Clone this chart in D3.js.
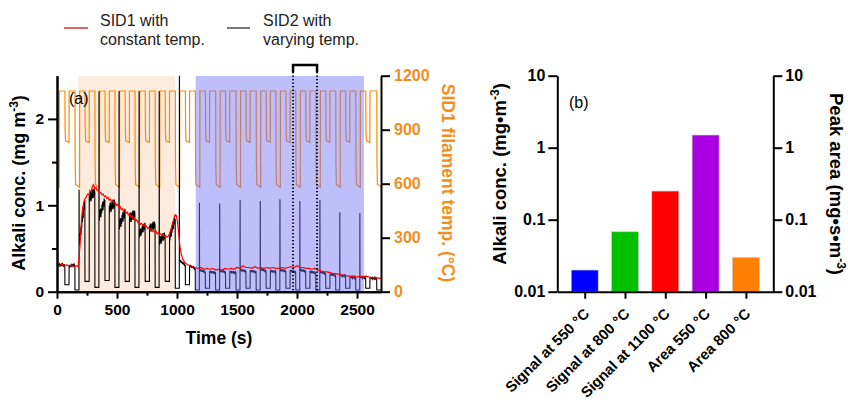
<!DOCTYPE html>
<html><head><meta charset="utf-8">
<script src="https://cdn.jsdelivr.net/npm/d3@7"></script>
<style>
html,body{margin:0;padding:0;background:#fff;}
svg{display:block;font-family:"Liberation Sans",Arial,Helvetica,sans-serif;}
</style></head><body>
<svg id="chart" width="848" height="403"></svg>
<script>
// ================= Panel (a) data =================
const timeTicks = [0, 500, 1000, 1500, 2000, 2500];
const timeMinorTicks = [250, 750, 1250, 1750, 2250];
const concTicks = [0, 1, 2];
const concMinorTicks = [0.5, 1.5];
const tempTicks = [0, 300, 600, 900, 1200];

// shaded periods (s)
const peachPeriod = [178, 983];
const bluePeriod = [1156, 2558];
const bracketPeriod = [1967, 2167];

// SID1 filament temperature programme (°C)
const tempHigh = 1115;
const tempShallow = 830;
const tempDeep = 580;
const deepDipStart = [-17, 150, 316, 483, 650, 818, 986, 1153, 1322, 1492, 1660, 1824, 1990, 2157, 2323, 2490, 2665];
const deepDipEnd   = [18, 188, 354, 521, 688, 856, 1022, 1190, 1359, 1529, 1697, 1861, 2027, 2194, 2360, 2527, 2710];
const shallowDipStart = [66, 233, 400, 568, 735, 902, 1070, 1237, 1405, 1575, 1743, 1908, 2073, 2240, 2406, 2573];
const shallowDipEnd   = [100, 268, 435, 603, 770, 937, 1104, 1271, 1439, 1609, 1777, 1942, 2107, 2274, 2440, 2607];

// SID2 (varying temp.) signal per cycle, mg m-3 (index = deep dip above)
const sid2LowDeep    = [null, 0.02, 0.05, 0.05, 0.05, 0.05, 0.04, 0.02, 0.02, 0.02, 0.02, 0.02, 0.02, 0.02, 0.02, 0.02, 0.02];
const sid2Spike      = [null, 1.18, 2.32, 2.32, 2.32, 2.32, 2.70, 1.03, 1.02, 1.06, 1.05, 1.07, 1.05, 1.06, 0.92, 0.91, null];
const sid2PlateauA0  = [0.31, 0.55, 0.86, 0.76, 0.66, 0.58, 0.36, 0.25, 0.24, 0.25, 0.26, 0.25, 0.25, 0.23, 0.19, 0.17];
const sid2PlateauA1  = [0.31, 1.06, 1.06, 0.92, 0.77, 0.66, 0.31, 0.23, 0.23, 0.24, 0.24, 0.24, 0.24, 0.21, 0.18, 0.16];
const sid2LowShallow = [0.08, 0.12, 0.13, 0.12, 0.12, 0.12, 0.08, 0.04, 0.04, 0.04, 0.04, 0.04, 0.04, 0.04, 0.04, 0.04];
const sid2PlateauB0  = [0.30, 1.08, 0.96, 0.85, 0.73, 0.62, 0.30, 0.23, 0.23, 0.24, 0.24, 0.24, 0.23, 0.20, 0.17, 0.16];
const sid2PlateauB1  = [0.31, 1.16, 1.03, 0.90, 0.78, 0.84, 0.27, 0.22, 0.22, 0.23, 0.23, 0.23, 0.22, 0.19, 0.16, 0.15];
const sid2Noise      = [0.01, 0.06, 0.06, 0.06, 0.05, 0.05, 0.015, 0.015, 0.015, 0.015, 0.015, 0.015, 0.015, 0.015, 0.012, 0.012];
const noiseShape = [0.6, -0.8, 1, -0.5, 0.9, -1, 0.4, -0.7, 0.8, -0.6, 1, -0.9, 0.5, -0.4, 0.7, -1];

// SID1 (constant temp.) signal, [time s, mg m-3]
const sid1Series = [
[0,0.31],[20,0.30],[40,0.32],[60,0.30],[80,0.31],[100,0.30],[120,0.31],[140,0.29],[160,0.30],[175,0.29],
[185,0.40],[195,0.62],[205,0.85],[215,0.98],[225,1.04],[235,1.08],[245,1.10],[255,1.13],[265,1.12],[275,1.17],
[285,1.16],[295,1.22],[305,1.24],[315,1.19],[325,1.21],[335,1.17],[345,1.18],[355,1.14],[365,1.15],[375,1.12],
[385,1.13],[395,1.10],[405,1.11],[415,1.08],[425,1.09],[435,1.06],[445,1.07],[455,1.04],[465,1.05],[475,1.02],
[485,1.03],[495,1.00],[505,1.01],[515,0.98],[525,0.99],[535,0.95],[545,0.96],[555,0.93],[565,0.95],[575,0.91],
[585,0.92],[595,0.89],[605,0.90],[615,0.87],[625,0.88],[635,0.84],[645,0.85],[655,0.82],[665,0.83],[675,0.80],
[685,0.81],[695,0.78],[705,0.79],[715,0.77],[725,0.78],[735,0.75],[745,0.76],[755,0.73],[765,0.74],[775,0.72],
[785,0.73],[795,0.70],[805,0.71],[815,0.69],[825,0.70],[835,0.67],[845,0.68],[855,0.66],[865,0.67],[875,0.65],
[885,0.66],[895,0.64],[905,0.65],[915,0.63],[925,0.64],[935,0.66],[945,0.70],[955,0.75],[965,0.80],[975,0.85],
[985,0.89],[995,0.88],[1005,0.80],[1015,0.66],[1025,0.52],[1035,0.44],[1045,0.39],[1055,0.36],[1065,0.34],[1080,0.32],
[1095,0.31],[1110,0.30],[1130,0.29],[1150,0.28],[1175,0.27],[1200,0.28],[1225,0.26],[1250,0.27],[1275,0.26],[1300,0.27],
[1325,0.25],[1350,0.26],[1375,0.25],[1400,0.27],[1425,0.26],[1450,0.27],[1475,0.26],[1500,0.28],[1525,0.27],[1550,0.30],
[1575,0.28],[1600,0.28],[1625,0.27],[1650,0.29],[1675,0.27],[1700,0.28],[1725,0.27],[1750,0.28],[1775,0.27],[1800,0.28],
[1825,0.27],[1850,0.27],[1875,0.28],[1900,0.27],[1925,0.28],[1950,0.29],[1975,0.28],[2000,0.30],[2025,0.28],[2050,0.28],
[2075,0.27],[2100,0.27],[2125,0.26],[2150,0.27],[2175,0.25],[2200,0.24],[2225,0.23],[2250,0.23],[2275,0.22],[2300,0.21],
[2325,0.21],[2350,0.20],[2375,0.19],[2400,0.19],[2425,0.18],[2450,0.18],[2475,0.18],[2500,0.17],[2525,0.18],[2550,0.17],
[2575,0.18],[2600,0.17],[2625,0.16],[2650,0.16],[2675,0.16],[2700,0.15]
];

// ================= Panel (b) data =================
const categories = ["Signal at 550 °C", "Signal at 800 °C", "Signal at 1100 °C", "Area 550 °C", "Area 800 °C"];
const barValues = [0.020, 0.068, 0.25, 1.5, 0.030];
const barColors = ["#0000ff", "#00c000", "#ff0000", "#a800e0", "#ff8000"];
const logTicks = [0.01, 0.1, 1, 10];

// ================= drawing =================
const svg = d3.select("#chart");
const ORANGE = "#f28e1c";
const FONT_TICK = "15.5px";

const x = d3.scaleLinear().domain([0, 2700]).range([57, 381]);
const y = d3.scaleLinear().domain([0, 2.5]).range([291.7, 75.7]);
const yT = d3.scaleLinear().domain([0, 1200]).range([291.7, 75.7]);

svg.append("defs").append("clipPath").attr("id", "clipA")
  .append("rect").attr("x", x(0)).attr("y", y(2.5)).attr("width", x(2700) - x(0)).attr("height", y(0) - y(2.5));

const plotA = svg.append("g").attr("clip-path", "url(#clipA)");

// peach background period
plotA.append("rect").attr("x", x(peachPeriod[0])).attr("y", y(2.5))
  .attr("width", x(peachPeriod[1]) - x(peachPeriod[0])).attr("height", y(0) - y(2.5))
  .attr("fill", "rgb(253,236,221)");

// orange temperature trace
const tempPts = [[0, tempDeep]];
const events = [];
deepDipStart.forEach((s, i) => events.push({s, e: deepDipEnd[i], lvl: tempDeep}));
shallowDipStart.forEach((s, i) => events.push({s, e: shallowDipEnd[i], lvl: tempShallow}));
events.sort((a, b) => a.s - b.s);
events.forEach(ev => {
  if (ev.s > 0) {
    tempPts.push([ev.s, tempHigh]);
    tempPts.push([ev.s + 1.5, ev.lvl + (tempHigh - ev.lvl) * 0.25]);
    tempPts.push([ev.s + 5, ev.lvl + (tempHigh - ev.lvl) * 0.03]);
  }
  tempPts.push([ev.e, ev.lvl]);
  tempPts.push([ev.e + 1, tempHigh]);
});
const lineT = d3.line().x(d => x(d[0])).y(d => yT(d[1]));
plotA.append("path").attr("d", lineT(tempPts)).attr("fill", "none")
  .attr("stroke", "#ff8a00").attr("stroke-width", 1.2);

// SID2 black trace
const sid2Pts = [];
function plateau(t0, t1, v0, v1, amp) {
  let j = 0;
  for (let t = t0; t < t1; t += 3) {
    const f = (t - t0) / Math.max(1, (t1 - t0));
    sid2Pts.push([t, v0 + (v1 - v0) * f + amp * noiseShape[j % noiseShape.length]]);
    j++;
  }
  sid2Pts.push([t1, v1]);
}
for (let i = 0; i < deepDipStart.length; i++) {
  const d0 = deepDipStart[i];
  let aStart;
  if (sid2LowDeep[i] !== null) {
    sid2Pts.push([d0, sid2LowDeep[i]]);
    sid2Pts.push([d0 + 33, sid2LowDeep[i]]);
  }
  if (sid2Spike[i] !== null) {
    sid2Pts.push([d0 + 34, sid2Spike[i]]);
    aStart = d0 + 35;
  } else {
    aStart = Math.max(0, d0 + 35);
  }
  if (i >= shallowDipStart.length) {
    sid2Pts.push([2700, sid2LowDeep[i]]);
    break;
  }
  if (i === 0) aStart = 0;
  plateau(aStart, shallowDipStart[i] - 1, sid2PlateauA0[i], sid2PlateauA1[i], sid2Noise[i]);
  sid2Pts.push([shallowDipStart[i], sid2LowShallow[i]]);
  sid2Pts.push([shallowDipEnd[i], sid2LowShallow[i]]);
  plateau(shallowDipEnd[i] + 1, deepDipStart[i + 1] - 1, sid2PlateauB0[i], sid2PlateauB1[i], sid2Noise[i]);
}
const lineC = d3.line().x(d => x(d[0])).y(d => y(d[1]));
plotA.append("path").attr("d", lineC(sid2Pts)).attr("fill", "none")
  .attr("stroke", "#000").attr("stroke-width", 1.1);

// blue translucent overlay
plotA.append("rect").attr("x", x(bluePeriod[0])).attr("y", y(2.5))
  .attr("width", x(bluePeriod[1]) - x(bluePeriod[0])).attr("height", y(0) - y(2.5))
  .attr("fill", "rgb(110,110,245)").attr("fill-opacity", 0.45);

// SID1 red trace
plotA.append("path").attr("d", lineC(sid1Series)).attr("fill", "none")
  .attr("stroke", "#ff0000").attr("stroke-width", 1.2);

// dotted lines + bracket
bracketPeriod.forEach(t => {
  svg.append("line").attr("x1", x(t)).attr("x2", x(t)).attr("y1", 72).attr("y2", y(0))
    .attr("stroke", "#000").attr("stroke-width", 2).attr("stroke-dasharray", "1.3,2.2");
});
svg.append("path")
  .attr("d", `M${x(bracketPeriod[0])},72V65H${x(bracketPeriod[1])}V72`)
  .attr("fill", "none").attr("stroke", "#000").attr("stroke-width", 2.5);

// axes styling helper
function styleAxis(g, color, size) {
  g.selectAll(".domain").attr("stroke", "#000").attr("stroke-width", 2);
  g.selectAll(".tick line").attr("stroke", "#000").attr("stroke-width", 2);
  g.selectAll(".tick text").attr("fill", color || "#000").style("font-size", size || FONT_TICK)
    .style("font-weight", "bold").style("font-family", '"Liberation Sans",Arial,sans-serif');
}

// x axis (a)
const gxm = svg.append("g").attr("transform", `translate(0,${y(0)})`)
  .call(d3.axisBottom(x).tickValues(timeMinorTicks).tickSize(4).tickSizeOuter(0).tickFormat(""));
styleAxis(gxm);
const gx = svg.append("g").attr("transform", `translate(0,${y(0)})`)
  .call(d3.axisBottom(x).tickValues(timeTicks).tickSize(7).tickSizeOuter(0).tickPadding(5).tickFormat(d3.format("d")));
styleAxis(gx);

// left y axis (a)
const gym = svg.append("g").attr("transform", `translate(${x(0)},0)`)
  .call(d3.axisLeft(y).tickValues(concMinorTicks).tickSize(5).tickSizeOuter(0).tickFormat(""));
styleAxis(gym);
const gy = svg.append("g").attr("transform", `translate(${x(0)},0)`)
  .call(d3.axisLeft(y).tickValues(concTicks).tickSize(9).tickSizeOuter(0).tickPadding(4).tickFormat(d3.format("d")));
styleAxis(gy);

// right y axis (a)
const gyr = svg.append("g").attr("transform", `translate(${x(2700)},0)`)
  .call(d3.axisRight(yT).tickValues(tempTicks).tickSize(9).tickSizeOuter(0).tickPadding(4).tickFormat(d3.format("d")));
styleAxis(gyr, ORANGE, "16px");

// axis titles (a)
svg.append("text").attr("x", 219).attr("y", 344).attr("text-anchor", "middle")
  .style("font-size", "17.5px").style("font-weight", "bold").text("Time (s)");
const yl = svg.append("text").attr("transform", "translate(25,183) rotate(-90)").attr("text-anchor", "middle")
  .style("font-size", "18px").style("font-weight", "bold");
yl.append("tspan").text("Alkali conc. (mg m");
yl.append("tspan").attr("dy", -7).style("font-size", "12px").text("-3");
yl.append("tspan").attr("dy", 7).text(")");
svg.append("text").attr("transform", "translate(442,183) rotate(90)").attr("text-anchor", "middle")
  .attr("fill", ORANGE).style("font-size", "17.5px").style("font-weight", "bold")
  .text("SID1 filament temp. (°C)");
svg.append("text").attr("x", 69).attr("y", 104).style("font-size", "16px").text("(a)");

// legend
svg.append("line").attr("x1", 64).attr("x2", 88).attr("y1", 28).attr("y2", 28)
  .attr("stroke", "#d86a6a").attr("stroke-width", 2);
svg.append("line").attr("x1", 227).attr("x2", 250).attr("y1", 28).attr("y2", 28)
  .attr("stroke", "#777").attr("stroke-width", 2);
[[100, "SID1 with", "constant temp."], [263, "SID2 with", "varying temp."]].forEach(d => {
  const t = svg.append("text").attr("x", d[0]).attr("y", 25.5).style("font-size", "16px").attr("fill", "#222");
  t.append("tspan").attr("x", d[0]).text(d[1]);
  t.append("tspan").attr("x", d[0]).attr("dy", 19).text(d[2]);
});

// ================= Panel (b) =================
const xb = d3.scalePoint().domain(categories).range([557.3, 773.3]).padding(0.68);
const yb = d3.scaleLog().domain([0.01, 10]).range([291.7, 75.7]);
const barW = 27;

svg.append("g").selectAll("rect").data(barValues).join("rect")
  .attr("x", (d, i) => xb(categories[i]) - barW / 2)
  .attr("y", d => yb(d))
  .attr("width", barW)
  .attr("height", d => yb(0.01) - yb(d))
  .attr("fill", (d, i) => barColors[i])
  .attr("stroke", "#d0d0d0").attr("stroke-width", 0.6);

const gbx = svg.append("g").attr("transform", `translate(0,${yb(0.01)})`)
  .call(d3.axisBottom(xb).tickSize(7).tickSizeOuter(0));
styleAxis(gbx, "#000", "14.8px");
gbx.selectAll(".tick text")
  .attr("x", 0).attr("y", 0).attr("dy", 0)
  .attr("text-anchor", "end")
  .attr("transform", "translate(5,23) rotate(-45)");

const gbl = svg.append("g").attr("transform", "translate(557.3,0)")
  .call(d3.axisLeft(yb).tickValues(logTicks).tickSize(9).tickSizeOuter(0).tickPadding(3).tickFormat(d => String(d)));
styleAxis(gbl, "#000", "16px");
const gbr = svg.append("g").attr("transform", "translate(773.3,0)")
  .call(d3.axisRight(yb).tickValues(logTicks).tickSize(9).tickSizeOuter(0).tickPadding(3).tickFormat(d => String(d)));
styleAxis(gbr, "#000", "16px");

const ylb = svg.append("text").attr("transform", "translate(506,174) rotate(-90)").attr("text-anchor", "middle")
  .style("font-size", "18.5px").style("font-weight", "bold");
ylb.append("tspan").text("Alkali conc. (mg•m");
ylb.append("tspan").attr("dy", -7).style("font-size", "12px").text("-3");
ylb.append("tspan").attr("dy", 7).text(")");
const yrb = svg.append("text").attr("transform", "translate(830,184) rotate(90)").attr("text-anchor", "middle")
  .style("font-size", "18.5px").style("font-weight", "bold");
yrb.append("tspan").text("Peak area (mg•s•m");
yrb.append("tspan").attr("dy", -7).style("font-size", "12px").text("-3");
yrb.append("tspan").attr("dy", 7).text(")");
svg.append("text").attr("x", 569).attr("y", 108).style("font-size", "16px").text("(b)");
</script>
</body></html>
